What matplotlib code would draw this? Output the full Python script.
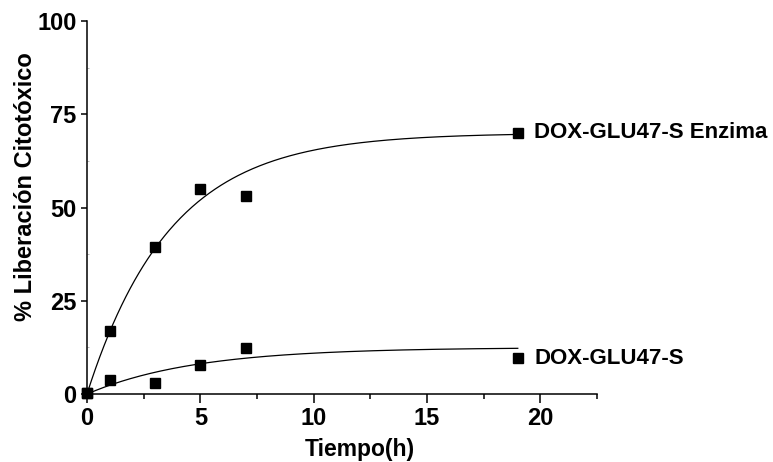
import numpy as np
import matplotlib
matplotlib.use("Agg")
import matplotlib.pyplot as plt
from matplotlib.ticker import MultipleLocator

plt.rcParams["font.family"] = ["Liberation Sans", "DejaVu Sans"]
plt.rcParams["font.weight"] = "bold"

# Measured release (%) over time (h)
time_h = [0, 1, 3, 5, 7, 19]
enzyme = [0.3, 16.9, 39.3, 55.0, 53.1, 70.0]
no_enzyme = [0.3, 3.8, 2.9, 7.8, 12.3, 9.6]

series_labels = ["DOX-GLU47-S Enzima", "DOX-GLU47-S"]

# First-order release fits: y = A * (1 - exp(-k t))
fit_enzyme = {"A": 70.0, "k": 0.272}
fit_no_enzyme = {"A": 12.5, "k": 0.21}

x_ticks = [0, 5, 10, 15, 20]
y_ticks = [0, 25, 50, 75, 100]

fig = plt.figure(figsize=(7.73, 4.62), dpi=100)
ax = fig.add_axes([0.1125, 0.147, 0.66, 0.8075])

t_fit = np.linspace(0, 19, 300)
for values, fit, label in [(enzyme, fit_enzyme, series_labels[0]),
                           (no_enzyme, fit_no_enzyme, series_labels[1])]:
    y_fit = fit["A"] * (1 - np.exp(-fit["k"] * t_fit))
    ax.plot(t_fit, y_fit, color="black", lw=0.9, zorder=2)
    ax.plot(time_h, values, ls="none", marker="s", ms=7.5, color="black",
            zorder=3, clip_on=False)
    ax.annotate(label, xy=(time_h[-1], values[-1]), xytext=(12, 0),
                textcoords="offset points", ha="left", va="center",
                fontsize=16, fontweight="bold")

ax.set_xlim(0, 22.5)
ax.set_ylim(0, 100)
ax.set_xticks(x_ticks)
ax.set_yticks(y_ticks)
ax.xaxis.set_minor_locator(MultipleLocator(2.5))
ax.yaxis.set_minor_locator(MultipleLocator(12.5))

for side in ["top", "right"]:
    ax.spines[side].set_visible(False)
for side in ["left", "bottom"]:
    ax.spines[side].set_linewidth(1.1)

ax.tick_params(axis="x", which="major", direction="out", length=6.5, width=1.1,
               labelsize=17, pad=3)
ax.tick_params(axis="x", which="minor", direction="out", length=3.6, width=1.1)
ax.tick_params(axis="y", which="major", direction="out", length=4.5, width=1.1,
               labelsize=17, pad=3)
ax.tick_params(axis="y", which="minor", direction="in", length=1.5, width=0.5,
               color="#999999")

for lbl in ax.get_xticklabels() + ax.get_yticklabels():
    lbl.set_fontweight("bold")

ax.set_xlabel("Tiempo(h)", fontsize=16.5, fontweight="bold")
ax.set_ylabel("% Liberación Citotóxico", fontsize=17, fontweight="bold")
ax.xaxis.set_label_coords(0.535, -0.118)
ax.yaxis.set_label_coords(-0.098, 0.555)

fig.savefig("out.png", dpi=100)
